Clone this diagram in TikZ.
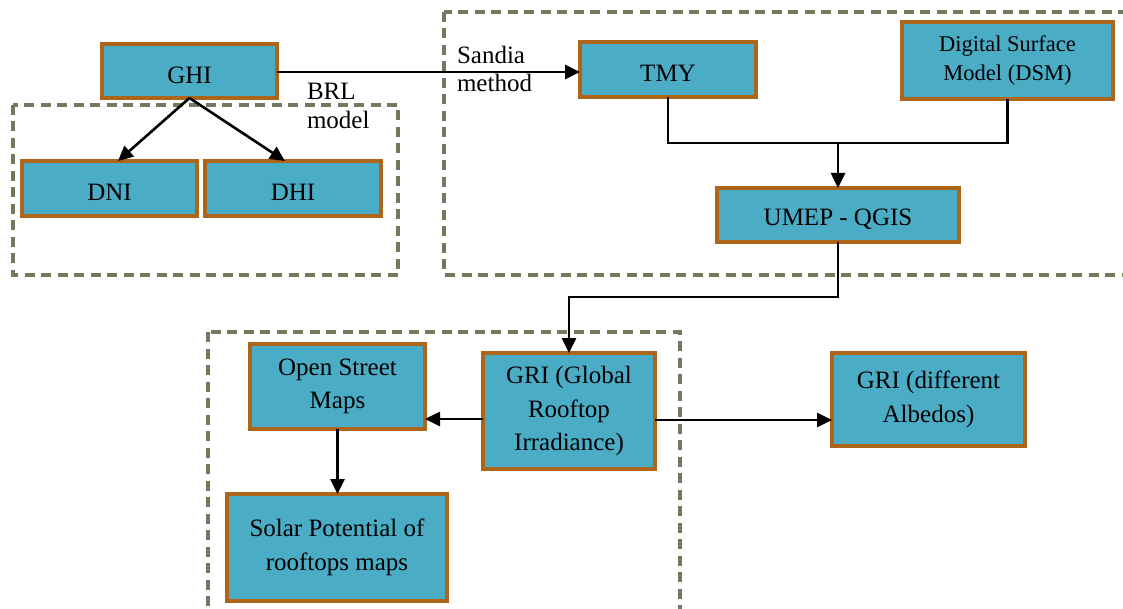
\documentclass[tikz,border=0pt]{standalone}
\usepackage{fontspec}
\setmainfont{Liberation Serif}
\usetikzlibrary{arrows.meta}
\definecolor{boxfill}{HTML}{4BACC6}
\definecolor{boxedge}{HTML}{AD6519}
\definecolor{groupline}{HTML}{6F7B5C}
\tikzset{
  box/.style={draw=boxedge, fill=boxfill, line width=3.3pt, inner sep=2pt, outer sep=0pt,
    align=center, font=\fontsize{25}{33.5}\selectfont, text=black,
    execute at begin node={\rule{0pt}{25pt}}},
  group/.style={draw=groupline, line width=3.4pt, dash pattern=on 10pt off 6.5pt},
  arr/.style={line width=2.6pt, -{Triangle[length=15pt,width=14pt]}},
  link/.style={line width=2.6pt},
  lbl/.style={inner sep=0pt, outer sep=0pt, align=left, anchor=north west,
    font=\fontsize{25}{28.5}\selectfont}
}
\begin{document}
\begin{tikzpicture}[x=1pt, y=-1pt]
\useasboundingbox (0,0) rectangle (1123,609);
\fill[white] (0,0) rectangle (1123,609);

% dashed grouping frames (two of them run past the page edge)
\begin{scope}
  \clip (0,0) rectangle (1123,609);
  \draw[group] (13,105) rectangle (398,275);
  \draw[group] (444,12) rectangle (1150,275);
  \draw[group] (208,332) rectangle (680,650);
\end{scope}

% process boxes
\node[box, minimum width=175pt, minimum height=54pt] (ghi) at (189.5,71) {GHI};
\node[box, minimum width=175pt, minimum height=55pt] (dni) at (109.5,188.5) {DNI};
\node[box, minimum width=176pt, minimum height=55pt] (dhi) at (293,188.5) {DHI};
\node[box, minimum width=176pt, minimum height=55pt] (tmy) at (668,69.5) {TMY};
\node[box, minimum width=211pt, minimum height=77pt, font=\fontsize{22.5}{29}\selectfont] (dsm) at (1007.5,60.5) {Digital Surface\\Model (DSM)};
\node[box, minimum width=242pt, minimum height=54pt] (umep) at (838,215) {UMEP - QGIS};
\node[box, minimum width=172pt, minimum height=116pt] (gri) at (569,411) {GRI (Global\\Rooftop\\Irradiance)};
\node[box, minimum width=175pt, minimum height=85pt] (osm) at (337.5,386.5) {Open Street\\Maps};
\node[box, minimum width=220pt, minimum height=107pt] (solar) at (337,547.5) {Solar Potential of\\rooftops maps};
\node[box, minimum width=193pt, minimum height=93pt] (grid) at (928.5,399.5) {GRI (different\\Albedos)};

% edge labels
\node[lbl] (brl) at (307,83.5) {BRL\\model};
\node[lbl] (sandia) at (457,46) {Sandia\\method};

% connectors
\draw[arr] ([yshift=-1pt]ghi.east) -- ([yshift=-1pt]ghi.east -| tmy.west);
\draw[arr] (ghi.south) -- ([xshift=8.5pt]dni.north);
\draw[arr] (ghi.south) -- ([xshift=-8pt]dhi.north);

\coordinate (join) at (838,143);
\draw[link] (tmy.south) |- (join) -| (dsm.south);
\draw[arr] (join) -- (umep.north);

\coordinate (turn) at (838,297);
\draw[arr] (umep.south) -- (turn) -| (gri.north);

\draw[arr] ([yshift=-8pt]gri.west) -- ([yshift=-8pt]gri.west -| osm.east);
\draw[arr] (osm.south) -- (osm.south |- solar.north);
\draw[arr] ([yshift=-9pt]gri.east) -- ([yshift=-9pt]gri.east -| grid.west);
\end{tikzpicture}
\end{document}
